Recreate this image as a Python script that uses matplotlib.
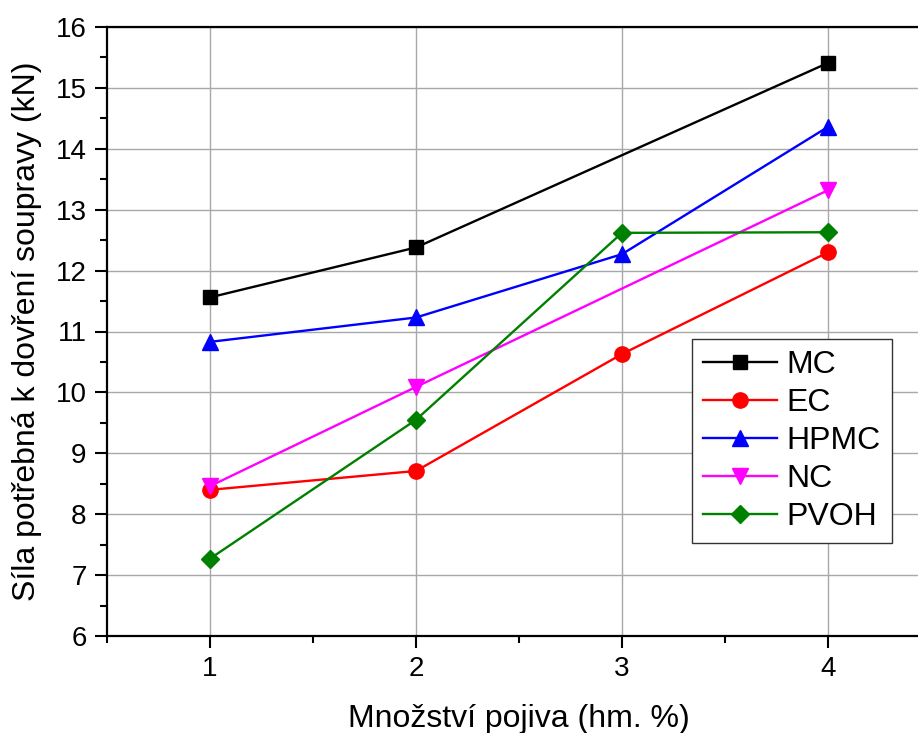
import matplotlib
matplotlib.use("Agg")
import matplotlib.pyplot as plt
from matplotlib.ticker import MultipleLocator

plt.rcParams['font.family'] = ['Liberation Sans', 'DejaVu Sans']

x_mc = [1, 2, 4]
mc = [11.56, 12.38, 15.41]
x_ec = [1, 2, 3, 4]
ec = [8.40, 8.71, 10.63, 12.30]
x_hpmc = [1, 2, 3, 4]
hpmc = [10.83, 11.23, 12.27, 14.36]
x_nc = [1, 2, 4]
nc = [8.46, 10.09, 13.32]
x_pvoh = [1, 2, 3, 4]
pvoh = [7.27, 9.55, 12.62, 12.63]

series = [
    ("MC", x_mc, mc, "black", "s"),
    ("EC", x_ec, ec, "#ff0000", "o"),
    ("HPMC", x_hpmc, hpmc, "#0000ff", "^"),
    ("NC", x_nc, nc, "#ff00ff", "v"),
    ("PVOH", x_pvoh, pvoh, "#008000", "D"),
]
msize = {"s": 10, "o": 11, "^": 11.5, "v": 11.5, "D": 9.5}

fig = plt.figure(figsize=(9.18, 7.33), dpi=100)
ax = fig.add_axes([107/918, 1-636/733, (931-107)/918, (636-27)/733])

for name, xs, ys, c, m in series:
    ax.plot(xs, ys, color=c, marker=m, markersize=msize[m], linewidth=1.7,
            label=name, clip_on=False, zorder=3)

ax.set_xlim(0.5, 4.5)
ax.set_ylim(6, 16)
ax.xaxis.set_major_locator(MultipleLocator(1))
ax.xaxis.set_minor_locator(MultipleLocator(0.5))
ax.yaxis.set_major_locator(MultipleLocator(1))
ax.yaxis.set_minor_locator(MultipleLocator(0.5))
ax.grid(True, which='major', color='#a8a8a8', linewidth=1.0)
ax.set_axisbelow(True)

for s in ax.spines.values():
    s.set_linewidth(1.6)
ax.tick_params(which='major', direction='out', length=8.6, width=1.5,
               labelsize=20, pad=6, top=False, right=False)
ax.tick_params(which='minor', direction='out', length=5, width=1.5,
               top=False, right=False)

ax.set_xlabel("Množství pojiva (hm. %)", fontsize=23, labelpad=16)
ax.set_ylabel("Síla potřebná k dovření soupravy (kN)", fontsize=23, labelpad=10)

leg = ax.legend(loc='upper left', bbox_to_anchor=(692/918, 1-339/733),
                bbox_transform=fig.transFigure, fontsize=23, frameon=True,
                fancybox=False, framealpha=1, edgecolor='#333333',
                handlelength=2.3, labelspacing=0.25, handletextpad=0.3,
                borderpad=0.35, borderaxespad=0)
leg.get_frame().set_linewidth(1.0)

fig.savefig("out.png", dpi=100)
